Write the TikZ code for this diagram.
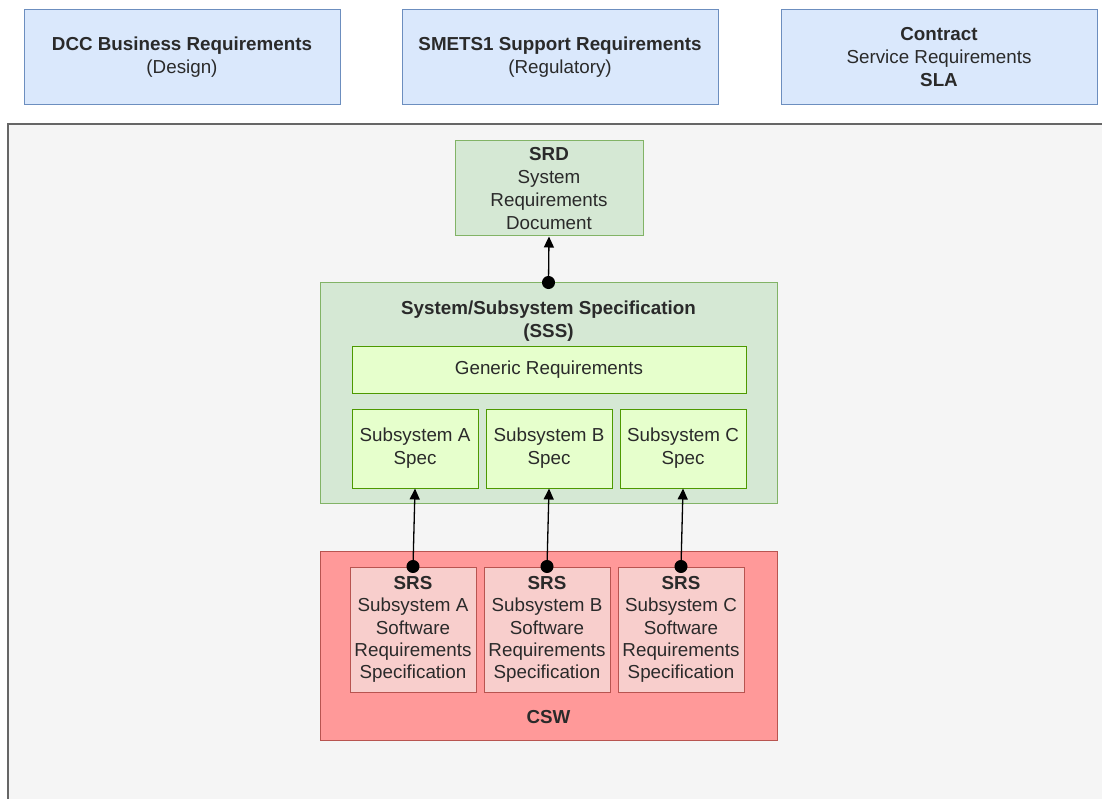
\documentclass[tikz,border=0pt]{standalone}
\usepackage{fontspec}
\setmainfont{Liberation Sans}
\usetikzlibrary{arrows.meta}
\definecolor{blueF}{HTML}{DAE8FC}
\definecolor{blueS}{HTML}{6C8EBF}
\definecolor{greenF}{HTML}{D5E8D4}
\definecolor{greenS}{HTML}{82B366}
\definecolor{limeF}{HTML}{E6FFCC}
\definecolor{limeS}{HTML}{4D9900}
\definecolor{redF}{HTML}{F8CECC}
\definecolor{redS}{HTML}{B85450}
\definecolor{cswF}{HTML}{FF9999}
\definecolor{grayF}{HTML}{F5F5F5}
\definecolor{grayS}{HTML}{666666}
\definecolor{txt}{HTML}{2A2A2A}
\tikzset{
  base/.style={font=\fontsize{18.8}{23}\selectfont, text=txt, align=center, inner sep=0pt, line width=1pt},
  bluebox/.style={base, draw=blueS, fill=blueF, minimum width=316pt, minimum height=95pt},
  greenbox/.style={base, draw=greenS, fill=greenF},
  limebox/.style={base, draw=limeS, fill=limeF},
  srsbox/.style={base, draw=redS, fill=redF, minimum width=126pt, minimum height=125pt, font=\fontsize{18.8}{22.3}\selectfont},
  cswbox/.style={base, draw=redS, fill=cswF},
  lbl/.style={base, draw=none, fill=none},
  conn/.style={line width=1.3pt, black, {Circle[length=13pt]}-{Triangle[length=11pt,width=10pt]}, shorten <=-6.5pt}
}
\begin{document}
\begin{tikzpicture}[x=1pt,y=-1pt]
\useasboundingbox (0,0) rectangle (1102,799);
\clip (0,0) rectangle (1102,799);
\fill[white] (0,0) rectangle (1102,799);
\draw[grayS, fill=grayF, line width=1.5pt] (8,124) rectangle (1120,820);

% top boxes
\node[bluebox] (dcc) at (182,57.5) {\textbf{DCC Business Requirements}\\(Design)};
\node[bluebox] (smets) at (560,57.5) {\textbf{SMETS1 Support Requirements}\\(Regulatory)};
\node[bluebox] (contract) at (939,57.5) {\textbf{Contract}\\Service Requirements\\\textbf{SLA}};

% SRD
\node[greenbox, minimum width=188pt, minimum height=95pt] (srd) at (549,188.5) {\textbf{SRD}\\System\\Requirements\\Document};

% SSS
\node[greenbox, minimum width=457pt, minimum height=220pt] (sss) at (548.5,393) {};
\node[lbl] (ssstitle) at (548.5,321.5) {\textbf{System/Subsystem Specification}\\\textbf{(SSS)}};
\node[limebox, minimum width=394pt, minimum height=47pt] (generic) at (549,369.5) {Generic Requirements};
\node[limebox, minimum width=126pt, minimum height=79pt] (specA) at (415,448.5) {Subsystem A\\Spec};
\node[limebox, minimum width=126pt, minimum height=79pt] (specB) at (549,448.5) {Subsystem B\\Spec};
\node[limebox, minimum width=126pt, minimum height=79pt] (specC) at (683,448.5) {Subsystem C\\Spec};

% CSW
\node[cswbox, minimum width=457pt, minimum height=189pt] (csw) at (548.5,645.5) {};
\node[lbl] (cswlabel) at (548.5,717) {\textbf{CSW}};
\node[srsbox] (srsA) at (413,629.5) {\textbf{SRS}\\Subsystem A\\Software\\Requirements\\Specification};
\node[srsbox] (srsB) at (547,629.5) {\textbf{SRS}\\Subsystem B\\Software\\Requirements\\Specification};
\node[srsbox] (srsC) at (681,629.5) {\textbf{SRS}\\Subsystem C\\Software\\Requirements\\Specification};

% connectors
\draw[conn] (sss.north) -- (srd.south);
\draw[conn] (srsA.north) -- (specA.south);
\draw[conn] (srsB.north) -- (specB.south);
\draw[conn] (srsC.north) -- (specC.south);
\end{tikzpicture}
\end{document}
